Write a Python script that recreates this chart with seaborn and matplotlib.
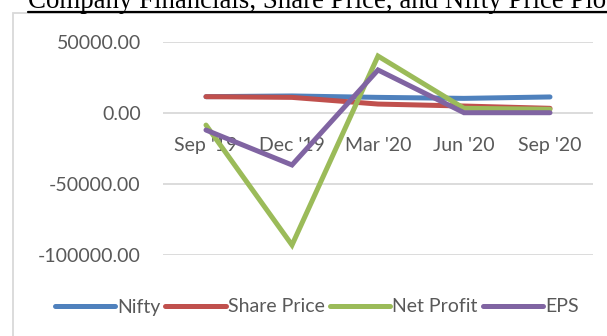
import matplotlib
matplotlib.use("Agg")
import matplotlib.pyplot as plt
import seaborn as sns
import pandas as pd
from matplotlib.ticker import FuncFormatter
from matplotlib.lines import Line2D
from matplotlib.patches import Rectangle

quarters = ["Sep '19", "Dec '19", "Mar '20", "Jun '20", "Sep '20"]
nifty = [11500, 12000, 11000, 10300, 11300]
share_price = [11500, 11000, 6300, 4900, 3300]
net_profit = [-8500, -93000, 40100, 3300, 2600]
eps = [-12000, -36600, 30300, 200, 200]

series_names = ["Nifty", "Share Price", "Net Profit", "EPS"]
colors = ["#4F81BD", "#C0504D", "#9BBB59", "#8064A2"]

df = pd.DataFrame({
    "Quarter": quarters * 4,
    "pos": list(range(len(quarters))) * 4,
    "Value": nifty + share_price + net_profit + eps,
    "Series": sum([[n] * len(quarters) for n in series_names], []),
})

sns.set_theme(style="white")
plt.rcParams["font.family"] = ["Lato", "DejaVu Sans"]

W, H = 607, 336
fig = plt.figure(figsize=(W / 100, H / 100), dpi=100)
ax = fig.add_axes([163 / W, 1 - 255 / H, (593 - 163) / W, (255 - 42) / H])

sns.lineplot(data=df, x="pos", y="Value", hue="Series", hue_order=series_names,
             palette=colors, linewidth=3.6, ax=ax, legend=True,
             solid_capstyle="round", solid_joinstyle="miter")

ax.set_xlim(-0.5, len(quarters) - 0.5)
ax.set_ylim(-100000, 50000)
ax.set_yticks([-100000, -50000, 0, 50000])
ax.yaxis.set_major_formatter(FuncFormatter(lambda v, p: f"{v:.2f}"))
ax.grid(axis="y", color="#d9d9d9", linewidth=1.3)
ax.set_axisbelow(True)
for s in ax.spines.values():
    s.set_visible(False)
ax.spines["bottom"].set_position(("data", 0))
ax.set_xticks(range(len(quarters)))
ax.set_xticklabels(quarters)
ax.tick_params(axis="x", length=0, pad=17, labelsize=14, colors="#595959")
ax.tick_params(axis="y", length=0, pad=16, labelsize=14, colors="#595959")
ax.set_xlabel("")
ax.set_ylabel("")

handles, labels = ax.get_legend_handles_labels()
ax.legend_.remove()
for h in handles:
    h.set_solid_capstyle("round")
fig.legend(handles, labels, loc="center", bbox_to_anchor=(0.522, 1 - 307 / H),
           ncol=4, frameon=False, fontsize=14, handlelength=3.1,
           handletextpad=0.12, columnspacing=0.25, labelcolor="#595959")

# chart area frame
fig.patches.append(Rectangle((13 / W, -0.1), 1.2, 1 - 13 / H + 0.1,
                             transform=fig.transFigure, fill=False,
                             edgecolor="#d9d9d9", linewidth=1.3))

# underlined heading above the chart
fig.text(28 / W, 1 - 8 / H, "Company Financials, Share Price, and Nifty Price Plot",
         family=["Liberation Serif"], fontsize=19.4, color="black",
         ha="left", va="baseline")
fig.lines.append(Line2D([28 / W, 1.0], [1 - 11.5 / H, 1 - 11.5 / H],
                        transform=fig.transFigure, color="black", linewidth=1.6))

fig.savefig("out.png", dpi=100)
